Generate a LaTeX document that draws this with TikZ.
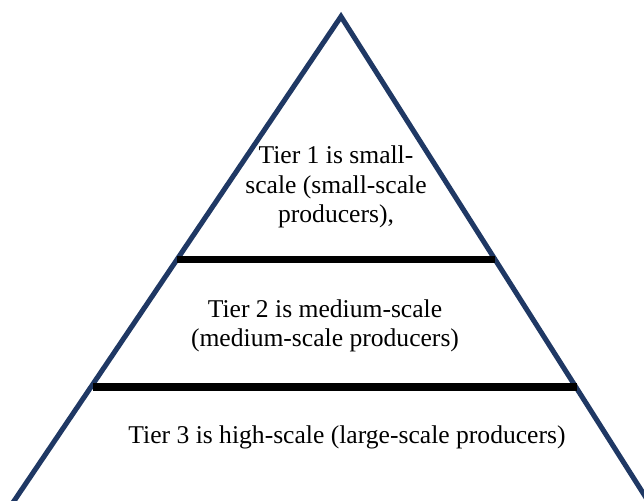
\documentclass[tikz,border=0pt]{standalone}
\usepackage{fontspec}
\setmainfont{Liberation Serif}
\usepackage{tikz}
\usetikzlibrary{positioning,calc}
\definecolor{pyrblue}{HTML}{1F3864}
\tikzset{
    side/.style={draw=pyrblue, line width=3.6pt, line join=miter},
    divider/.style={draw=black, line width=5pt},
    tiertext/.style={align=center, font=\fontsize{18.2}{20.8}\selectfont, text=black, inner sep=0pt},
}
\begin{document}
\begin{tikzpicture}[x=0.025cm, y=-0.025cm]
        \useasboundingbox (0,0) rectangle (644,500);
        \clip (0,0) rectangle (644,500);
        % outline of the pyramid
        \coordinate (top) at (341,16.5);
        \coordinate (bl) at (12,504);
        \coordinate (br) at (650,504);
        \draw[side] (top) -- (bl) -- (br) -- cycle;
        
        % ends of the two dividers
        \coordinate (d1l) at (177,259.5);
        \coordinate (d1r) at (495,259.5);
        \coordinate (d2l) at (93,387);
        \coordinate (d2r) at (577,387);
        \foreach \from/\to in {d1l/d1r, d2l/d2r}
            \draw[divider] (\from) -- (\to);
        
        % tier labels
        \node[tiertext] (tier1) at (336,187) {Tier 1 is small-\\scale (small-scale\\producers),};
        \node[tiertext] (tier2) at (325,326) {Tier 2 is medium-scale\\(medium-scale producers)};
        \node[tiertext, anchor=base] (tier3) at (347,443) {Tier 3 is high-scale (large-scale producers)};
    \end{tikzpicture}
\end{document}
